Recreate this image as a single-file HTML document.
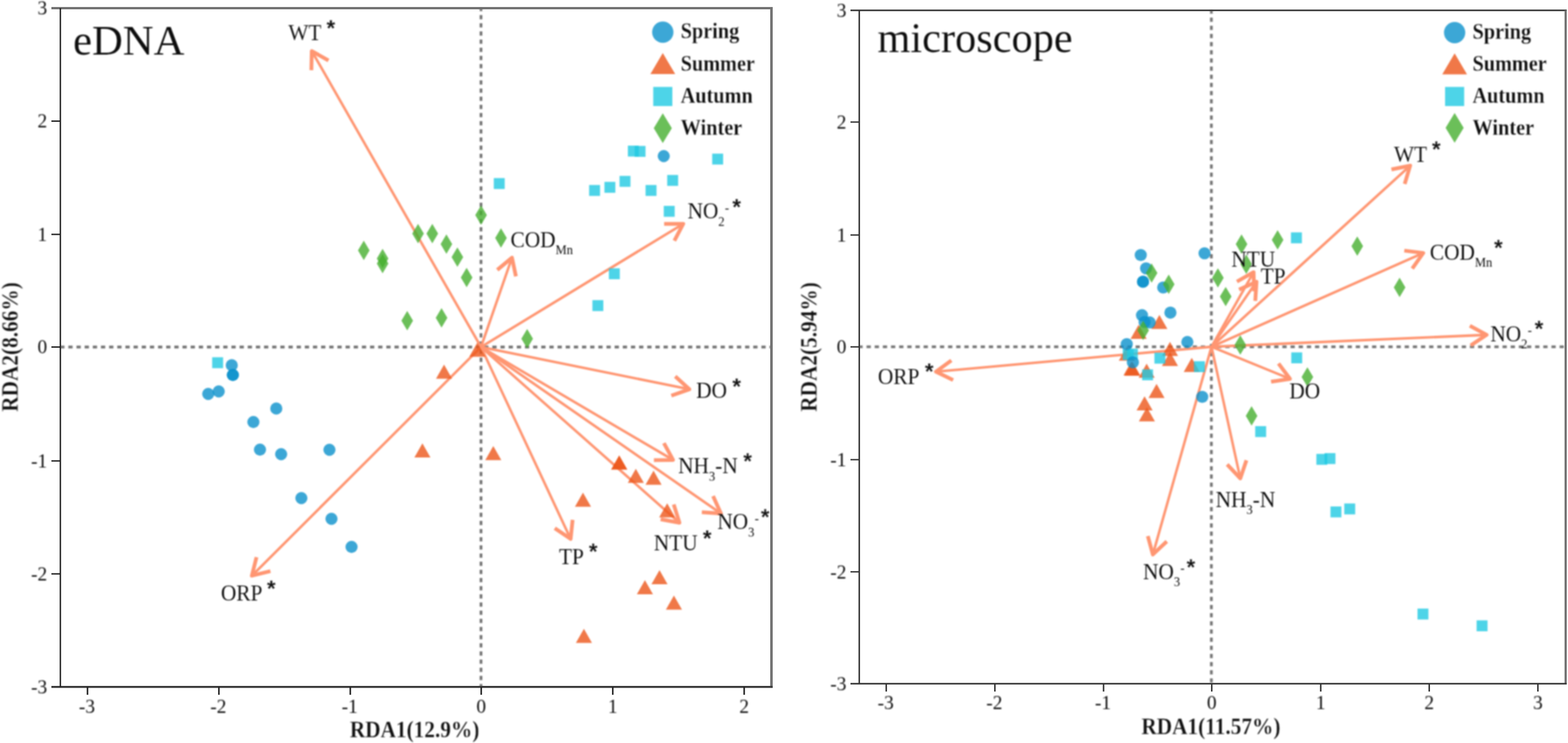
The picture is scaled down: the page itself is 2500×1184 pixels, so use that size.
<!DOCTYPE html>
<html lang="en">
<head>
<meta charset="utf-8">
<title>RDA ordination: eDNA vs microscope</title>
<style>
html, body { margin: 0; padding: 0; background: #ffffff; }
body { width: 2500px; height: 1184px; overflow: hidden; }
svg { display: block; }
g.soft { filter: blur(1px); }
text { white-space: pre; stroke: #ffffff; paint-order: fill stroke; stroke-linejoin: round; }
text.r { font-family: "Liberation Serif", "DejaVu Serif", serif; font-weight: 400; }
text.b { font-family: "Liberation Serif", "DejaVu Serif", serif; font-weight: 700; }
text.st { font-family: "Liberation Sans", "DejaVu Sans", sans-serif; font-weight: 700; }
</style>
</head>
<body>
<svg width="2500" height="1184" viewBox="0 0 2500 1184">
<rect x="-10" y="-10" width="2520" height="1204" fill="#ffffff"/>
<g class="soft">
<line x1="96.25" y1="553" x2="1230" y2="553" stroke="#747474" stroke-width="4.3" stroke-dasharray="6.8 6.2" stroke-dashoffset="0.3"/>
<line x1="766.9" y1="13" x2="766.9" y2="1094.7" stroke="#747474" stroke-width="4.3" stroke-dasharray="6.8 6.2" stroke-dashoffset="2.0"/>
<line x1="766.9" y1="553" x2="497.09" y2="81.41" stroke="#ff9672" stroke-width="4.1"/>
<polyline points="523.71,96.3 497.09,81.41 496.44,111.9" fill="none" stroke="#ff9672" stroke-width="6.0" stroke-linejoin="round" stroke-linecap="butt"/>
<line x1="766.9" y1="553" x2="816.28" y2="410.58" stroke="#ff9672" stroke-width="4.1"/>
<polyline points="822.56,440.43 816.28,410.58 792.87,430.13" fill="none" stroke="#ff9672" stroke-width="6.0" stroke-linejoin="round" stroke-linecap="butt"/>
<line x1="766.9" y1="553" x2="1089.37" y2="356.64" stroke="#ff9672" stroke-width="4.1"/>
<polyline points="1075.21,383.66 1089.37,356.64 1058.87,356.82" fill="none" stroke="#ff9672" stroke-width="6.0" stroke-linejoin="round" stroke-linecap="butt"/>
<line x1="766.9" y1="553" x2="1099.09" y2="620.31" stroke="#ff9672" stroke-width="4.1"/>
<polyline points="1070.35,630.52 1099.09,620.31 1076.59,599.73" fill="none" stroke="#ff9672" stroke-width="6.0" stroke-linejoin="round" stroke-linecap="butt"/>
<line x1="766.9" y1="553" x2="1073.1" y2="732.89" stroke="#ff9672" stroke-width="4.1"/>
<polyline points="1042.6,733.19 1073.1,732.89 1058.52,706.1" fill="none" stroke="#ff9672" stroke-width="6.0" stroke-linejoin="round" stroke-linecap="butt"/>
<line x1="766.9" y1="553" x2="1149.44" y2="818.25" stroke="#ff9672" stroke-width="4.1"/>
<polyline points="1119.01,816.26 1149.44,818.25 1136.91,790.44" fill="none" stroke="#ff9672" stroke-width="6.0" stroke-linejoin="round" stroke-linecap="butt"/>
<line x1="766.9" y1="553" x2="1083.35" y2="833.04" stroke="#ff9672" stroke-width="4.1"/>
<polyline points="1053.36,827.48 1083.35,833.04 1074.18,803.95" fill="none" stroke="#ff9672" stroke-width="6.0" stroke-linejoin="round" stroke-linecap="butt"/>
<line x1="766.9" y1="553" x2="909.82" y2="858.76" stroke="#ff9672" stroke-width="4.1"/>
<polyline points="884.52,841.72 909.82,858.76 912.98,828.42" fill="none" stroke="#ff9672" stroke-width="6.0" stroke-linejoin="round" stroke-linecap="butt"/>
<line x1="766.9" y1="553" x2="401.56" y2="917.45" stroke="#ff9672" stroke-width="4.1"/>
<polyline points="408.97,887.86 401.56,917.45 431.16,910.1" fill="none" stroke="#ff9672" stroke-width="6.0" stroke-linejoin="round" stroke-linecap="butt"/>
<polygon points="761,546 773.8,568.5 748.2,568.5" fill="#ec561a" fill-opacity="0.8"/>
<polygon points="708,581 720.8,603.5 695.2,603.5" fill="#ec561a" fill-opacity="0.8"/>
<polygon points="673.5,706.5 686.3,729 660.7,729" fill="#ec561a" fill-opacity="0.8"/>
<polygon points="786.5,710.75 799.3,733.25 773.7,733.25" fill="#ec561a" fill-opacity="0.8"/>
<polygon points="987.25,725.75 1000.05,748.25 974.45,748.25" fill="#ec561a" fill-opacity="0.8"/>
<polygon points="987.25,725.75 1000.05,748.25 974.45,748.25" fill="#ec561a" fill-opacity="0.8"/>
<polygon points="1013.75,747 1026.55,769.5 1000.95,769.5" fill="#ec561a" fill-opacity="0.8"/>
<polygon points="1042,750 1054.8,772.5 1029.2,772.5" fill="#ec561a" fill-opacity="0.8"/>
<polygon points="929.5,785 942.3,807.5 916.7,807.5" fill="#ec561a" fill-opacity="0.8"/>
<polygon points="1063.75,802 1076.55,824.5 1050.95,824.5" fill="#ec561a" fill-opacity="0.8"/>
<polygon points="1051.5,908.5 1064.3,931 1038.7,931" fill="#ec561a" fill-opacity="0.8"/>
<polygon points="1028.25,924.5 1041.05,947 1015.45,947" fill="#ec561a" fill-opacity="0.8"/>
<polygon points="1074.5,949 1087.3,971.5 1061.7,971.5" fill="#ec561a" fill-opacity="0.8"/>
<polygon points="931,1002 943.8,1024.5 918.2,1024.5" fill="#ec561a" fill-opacity="0.8"/>
<rect x="338.3" y="569.3" width="17.4" height="17.4" fill="#20c9e2" fill-opacity="0.8"/>
<rect x="1001.05" y="232.05" width="17.4" height="17.4" fill="#20c9e2" fill-opacity="0.8"/>
<rect x="1011.8" y="232.55" width="17.4" height="17.4" fill="#20c9e2" fill-opacity="0.8"/>
<rect x="1135.55" y="244.8" width="17.4" height="17.4" fill="#20c9e2" fill-opacity="0.8"/>
<rect x="787.3" y="283.8" width="17.4" height="17.4" fill="#20c9e2" fill-opacity="0.8"/>
<rect x="987.8" y="280.3" width="17.4" height="17.4" fill="#20c9e2" fill-opacity="0.8"/>
<rect x="963.7" y="289.8" width="17.4" height="17.4" fill="#20c9e2" fill-opacity="0.8"/>
<rect x="939.3" y="294.8" width="17.4" height="17.4" fill="#20c9e2" fill-opacity="0.8"/>
<rect x="1029.3" y="294.8" width="17.4" height="17.4" fill="#20c9e2" fill-opacity="0.8"/>
<rect x="1063.8" y="278.8" width="17.4" height="17.4" fill="#20c9e2" fill-opacity="0.8"/>
<rect x="1058.3" y="328.05" width="17.4" height="17.4" fill="#20c9e2" fill-opacity="0.8"/>
<rect x="970.8" y="427.55" width="17.4" height="17.4" fill="#20c9e2" fill-opacity="0.8"/>
<rect x="944.55" y="478.3" width="17.4" height="17.4" fill="#20c9e2" fill-opacity="0.8"/>
<circle cx="369.5" cy="582" r="9.7" fill="#0b91cc" fill-opacity="0.8"/>
<circle cx="371.25" cy="597.5" r="9.7" fill="#0b91cc" fill-opacity="0.8"/>
<circle cx="371.25" cy="597.5" r="9.7" fill="#0b91cc" fill-opacity="0.8"/>
<circle cx="332" cy="627.75" r="9.7" fill="#0b91cc" fill-opacity="0.8"/>
<circle cx="348.75" cy="623.75" r="9.7" fill="#0b91cc" fill-opacity="0.8"/>
<circle cx="440.5" cy="651" r="9.7" fill="#0b91cc" fill-opacity="0.8"/>
<circle cx="404" cy="672.5" r="9.7" fill="#0b91cc" fill-opacity="0.8"/>
<circle cx="414.5" cy="716.5" r="9.7" fill="#0b91cc" fill-opacity="0.8"/>
<circle cx="448.25" cy="723.75" r="9.7" fill="#0b91cc" fill-opacity="0.8"/>
<circle cx="525.25" cy="716.75" r="9.7" fill="#0b91cc" fill-opacity="0.8"/>
<circle cx="480.5" cy="793.75" r="9.7" fill="#0b91cc" fill-opacity="0.8"/>
<circle cx="528.5" cy="826.75" r="9.7" fill="#0b91cc" fill-opacity="0.8"/>
<circle cx="560.5" cy="871.5" r="9.7" fill="#0b91cc" fill-opacity="0.8"/>
<circle cx="1058.25" cy="248.75" r="9.7" fill="#0b91cc" fill-opacity="0.8"/>
<polygon points="580,383.6 589.25,399 580,414.4 570.75,399" fill="#46af2f" fill-opacity="0.8"/>
<polygon points="610,396.6 619.25,412 610,427.4 600.75,412" fill="#46af2f" fill-opacity="0.8"/>
<polygon points="610,404.6 619.25,420 610,435.4 600.75,420" fill="#46af2f" fill-opacity="0.8"/>
<polygon points="767,327.35 776.25,342.75 767,358.15 757.75,342.75" fill="#46af2f" fill-opacity="0.8"/>
<polygon points="666.5,356.85 675.75,372.25 666.5,387.65 657.25,372.25" fill="#46af2f" fill-opacity="0.8"/>
<polygon points="689.25,356.85 698.5,372.25 689.25,387.65 680,372.25" fill="#46af2f" fill-opacity="0.8"/>
<polygon points="711.75,373.6 721,389 711.75,404.4 702.5,389" fill="#46af2f" fill-opacity="0.8"/>
<polygon points="729.25,394.35 738.5,409.75 729.25,425.15 720,409.75" fill="#46af2f" fill-opacity="0.8"/>
<polygon points="744,426.85 753.25,442.25 744,457.65 734.75,442.25" fill="#46af2f" fill-opacity="0.8"/>
<polygon points="798.75,363.85 808,379.25 798.75,394.65 789.5,379.25" fill="#46af2f" fill-opacity="0.8"/>
<polygon points="649.25,495.6 658.5,511 649.25,526.4 640,511" fill="#46af2f" fill-opacity="0.8"/>
<polygon points="704,491.1 713.25,506.5 704,521.9 694.75,506.5" fill="#46af2f" fill-opacity="0.8"/>
<polygon points="840.5,524.35 849.75,539.75 840.5,555.15 831.25,539.75" fill="#46af2f" fill-opacity="0.8"/>
</g>
<g class="crisp">
<line x1="81.95" y1="13" x2="1232" y2="13" stroke="#6a6a6a" stroke-width="3.6"/>
<line x1="1230" y1="13" x2="1230" y2="1094.7" stroke="#747474" stroke-width="4.0"/>
<line x1="81.95" y1="1094.7" x2="1232" y2="1094.7" stroke="#3c3c3c" stroke-width="3.2"/>
<line x1="96.25" y1="13" x2="96.25" y2="1094.7" stroke="#1e1e1e" stroke-width="2.2"/>
<line x1="81.95" y1="193" x2="96.25" y2="193" stroke="#1e1e1e" stroke-width="2.2"/>
<line x1="81.95" y1="373.5" x2="96.25" y2="373.5" stroke="#1e1e1e" stroke-width="2.2"/>
<line x1="81.95" y1="553" x2="96.25" y2="553" stroke="#1e1e1e" stroke-width="2.2"/>
<line x1="81.95" y1="734.5" x2="96.25" y2="734.5" stroke="#1e1e1e" stroke-width="2.2"/>
<line x1="81.95" y1="914.5" x2="96.25" y2="914.5" stroke="#1e1e1e" stroke-width="2.2"/>
<line x1="139.5" y1="1094.7" x2="139.5" y2="1107.2" stroke="#1e1e1e" stroke-width="2.4"/>
<line x1="349" y1="1094.7" x2="349" y2="1107.2" stroke="#1e1e1e" stroke-width="2.4"/>
<line x1="558.5" y1="1094.7" x2="558.5" y2="1107.2" stroke="#1e1e1e" stroke-width="2.4"/>
<line x1="767.25" y1="1094.7" x2="767.25" y2="1107.2" stroke="#1e1e1e" stroke-width="2.4"/>
<line x1="977" y1="1094.7" x2="977" y2="1107.2" stroke="#1e1e1e" stroke-width="2.4"/>
<line x1="1186.5" y1="1094.7" x2="1186.5" y2="1107.2" stroke="#1e1e1e" stroke-width="2.4"/>
</g>
<g class="soft">
<text class="r" x="75.3" y="23.4" font-size="31" text-anchor="end" fill="#050505" stroke-width="0.05">3</text>
<text class="r" x="75.3" y="203.4" font-size="31" text-anchor="end" fill="#050505" stroke-width="0.05">2</text>
<text class="r" x="75.3" y="383.9" font-size="31" text-anchor="end" fill="#050505" stroke-width="0.05">1</text>
<text class="r" x="75.3" y="563.4" font-size="31" text-anchor="end" fill="#050505" stroke-width="0.05">0</text>
<text class="r" x="75.3" y="744.9" font-size="31" text-anchor="end" fill="#050505" stroke-width="0.05">-1</text>
<text class="r" x="75.3" y="924.9" font-size="31" text-anchor="end" fill="#050505" stroke-width="0.05">-2</text>
<text class="r" x="75.3" y="1105.1" font-size="31" text-anchor="end" fill="#050505" stroke-width="0.05">-3</text>
<text class="r" x="138.6" y="1136.3" font-size="31" text-anchor="middle" fill="#050505" stroke-width="0.05">-3</text>
<text class="r" x="348.1" y="1136.3" font-size="31" text-anchor="middle" fill="#050505" stroke-width="0.05">-2</text>
<text class="r" x="557.6" y="1136.3" font-size="31" text-anchor="middle" fill="#050505" stroke-width="0.05">-1</text>
<text class="r" x="767.25" y="1136.3" font-size="31" text-anchor="middle" fill="#050505" stroke-width="0.05">0</text>
<text class="r" x="977" y="1136.3" font-size="31" text-anchor="middle" fill="#050505" stroke-width="0.05">1</text>
<text class="r" x="1186.5" y="1136.3" font-size="31" text-anchor="middle" fill="#050505" stroke-width="0.05">2</text>
<text class="b" x="0" y="0" font-size="34" text-anchor="middle" fill="#111" stroke-width="0.3" transform="translate(661 1174.8) scale(1 1.09)">RDA1(12.9%)</text>
<text class="b" x="0" y="0" font-size="34" text-anchor="middle" fill="#111" stroke-width="0.3" transform="translate(28.3 553) rotate(-90) scale(1 1.09)">RDA2(8.66%)</text>
<text class="r" x="116.5" y="86.6" font-size="68" text-anchor="start" fill="#0d0d0d" stroke-width="0.1">eDNA</text>
<circle cx="1056.75" cy="51.25" r="17" fill="#0b91cc" fill-opacity="0.8"/>
<polygon points="1056.75,84.5 1076.5,118 1037,118" fill="#ec561a" fill-opacity="0.8"/>
<rect x="1041.5" y="138.5" width="30.5" height="30.5" fill="#20c9e2" fill-opacity="0.8"/>
<polygon points="1056.75,180.5 1071.15,204.25 1056.75,228 1042.35,204.25" fill="#46af2f" fill-opacity="0.8"/>
<text class="b" x="0" y="0" font-size="32.3" text-anchor="start" fill="#0d0d0d" stroke-width="0.3" transform="translate(1085.3 61.25) scale(1 1.09)">Spring</text>
<text class="b" x="0" y="0" font-size="32.3" text-anchor="start" fill="#0d0d0d" stroke-width="0.3" transform="translate(1085.3 113) scale(1 1.09)">Summer</text>
<text class="b" x="0" y="0" font-size="32.3" text-anchor="start" fill="#0d0d0d" stroke-width="0.3" transform="translate(1085.3 164.25) scale(1 1.09)">Autumn</text>
<text class="b" x="0" y="0" font-size="32.3" text-anchor="start" fill="#0d0d0d" stroke-width="0.3" transform="translate(1085.3 215) scale(1 1.09)">Winter</text>
<text class="r" x="0" y="0" font-size="34" text-anchor="start" fill="#0a0a0a" stroke-width="0.1" transform="translate(459.7 63.8) scale(1 1.05)">WT</text>
<text class="st" x="527.5" y="58" font-size="36" text-anchor="middle" fill="#111" stroke-width="0.3">*</text>
<text class="r" x="0" y="0" font-size="34" text-anchor="start" fill="#0a0a0a" stroke-width="0.1" transform="translate(813.95 393.8) scale(1 1.05)">COD<tspan font-size="20" dy="11" stroke-width="0">Mn</tspan></text>
<text class="r" x="0" y="0" font-size="34" text-anchor="start" fill="#0a0a0a" stroke-width="0.1" transform="translate(1096.2 348.3) scale(1 1.05)">NO<tspan font-size="20" dy="11" stroke-width="0">2</tspan><tspan font-size="20" dy="-21" dx="0.5" stroke-width="0">-</tspan></text>
<text class="st" x="1174.6" y="342.6" font-size="36" text-anchor="middle" fill="#111" stroke-width="0.3">*</text>
<text class="r" x="0" y="0" font-size="34" text-anchor="start" fill="#0a0a0a" stroke-width="0.1" transform="translate(1109.95 634.3) scale(1 1.05)">DO</text>
<text class="st" x="1174.5" y="629.35" font-size="36" text-anchor="middle" fill="#111" stroke-width="0.3">*</text>
<text class="r" x="0" y="0" font-size="34" text-anchor="start" fill="#0a0a0a" stroke-width="0.1" transform="translate(1081.2 754.3) scale(1 1.05)">NH<tspan font-size="20" dy="11" stroke-width="0">3</tspan><tspan dy="-11">-N</tspan></text>
<text class="st" x="1192" y="747.6" font-size="36" text-anchor="middle" fill="#111" stroke-width="0.3">*</text>
<text class="r" x="0" y="0" font-size="34" text-anchor="start" fill="#0a0a0a" stroke-width="0.1" transform="translate(1143.7 843.05) scale(1 1.05)">NO<tspan font-size="20" dy="11" stroke-width="0">3</tspan><tspan font-size="20" dy="-21" dx="0.5" stroke-width="0">-</tspan></text>
<text class="st" x="1220" y="836.85" font-size="36" text-anchor="middle" fill="#111" stroke-width="0.3">*</text>
<text class="r" x="0" y="0" font-size="34" text-anchor="start" fill="#0a0a0a" stroke-width="0.1" transform="translate(1042.45 876.8) scale(1 1.05)">NTU</text>
<text class="st" x="1127.5" y="870.6" font-size="36" text-anchor="middle" fill="#111" stroke-width="0.3">*</text>
<text class="r" x="0" y="0" font-size="34" text-anchor="start" fill="#0a0a0a" stroke-width="0.1" transform="translate(891.2 898.8) scale(1 1.05)">TP</text>
<text class="st" x="945.75" y="891.85" font-size="36" text-anchor="middle" fill="#111" stroke-width="0.3">*</text>
<text class="r" x="0" y="0" font-size="34" text-anchor="start" fill="#0a0a0a" stroke-width="0.1" transform="translate(352.2 957.05) scale(1 1.05)">ORP</text>
<text class="st" x="432.5" y="950.6" font-size="36" text-anchor="middle" fill="#111" stroke-width="0.3">*</text>
</g>
<g class="soft">
<line x1="1370" y1="552.6" x2="2496.25" y2="552.6" stroke="#747474" stroke-width="4.3" stroke-dasharray="6.8 6.2" stroke-dashoffset="1.4"/>
<line x1="1931.4" y1="16.5" x2="1931.4" y2="1089.5" stroke="#747474" stroke-width="4.3" stroke-dasharray="6.8 6.2" stroke-dashoffset="1.6"/>
<line x1="1931.6" y1="552.6" x2="1998.72" y2="433.72" stroke="#ff9672" stroke-width="4.1"/>
<polyline points="1999.54,464.2 1998.72,433.72 1972.19,448.76" fill="none" stroke="#ff9672" stroke-width="6.0" stroke-linejoin="round" stroke-linecap="butt"/>
<line x1="1931.6" y1="552.6" x2="2003.35" y2="449.01" stroke="#ff9672" stroke-width="4.1"/>
<polyline points="2001.38,479.44 2003.35,449.01 1975.55,461.56" fill="none" stroke="#ff9672" stroke-width="6.0" stroke-linejoin="round" stroke-linecap="butt"/>
<line x1="1931.6" y1="552.6" x2="2248.37" y2="263.98" stroke="#ff9672" stroke-width="4.1"/>
<polyline points="2239.63,293.2 2248.37,263.98 2218.47,269.98" fill="none" stroke="#ff9672" stroke-width="6.0" stroke-linejoin="round" stroke-linecap="butt"/>
<line x1="1931.6" y1="552.6" x2="2269.24" y2="403.14" stroke="#ff9672" stroke-width="4.1"/>
<polyline points="2251.69,428.09 2269.24,403.14 2238.97,399.36" fill="none" stroke="#ff9672" stroke-width="6.0" stroke-linejoin="round" stroke-linecap="butt"/>
<line x1="1931.6" y1="552.6" x2="2370.3" y2="533.6" stroke="#ff9672" stroke-width="4.1"/>
<polyline points="2344.86,550.42 2370.3,533.6 2343.5,519.03" fill="none" stroke="#ff9672" stroke-width="6.0" stroke-linejoin="round" stroke-linecap="butt"/>
<line x1="1931.6" y1="552.6" x2="2056.71" y2="603.67" stroke="#ff9672" stroke-width="4.1"/>
<polyline points="2026.57,608.33 2056.71,603.67 2038.44,579.24" fill="none" stroke="#ff9672" stroke-width="6.0" stroke-linejoin="round" stroke-linecap="butt"/>
<line x1="1931.6" y1="552.6" x2="1977.53" y2="762.35" stroke="#ff9672" stroke-width="4.1"/>
<polyline points="1956.59,740.17 1977.53,762.35 1987.28,733.45" fill="none" stroke="#ff9672" stroke-width="6.0" stroke-linejoin="round" stroke-linecap="butt"/>
<line x1="1931.6" y1="552.6" x2="1838.1" y2="883.63" stroke="#ff9672" stroke-width="4.1"/>
<polyline points="1830.09,854.2 1838.1,883.63 1860.32,862.74" fill="none" stroke="#ff9672" stroke-width="6.0" stroke-linejoin="round" stroke-linecap="butt"/>
<line x1="1931.6" y1="552.6" x2="1492.19" y2="592.3" stroke="#ff9672" stroke-width="4.1"/>
<polyline points="1516.82,574.3 1492.19,592.3 1519.64,605.59" fill="none" stroke="#ff9672" stroke-width="6.0" stroke-linejoin="round" stroke-linecap="butt"/>
<polygon points="1848.5,501.8 1861.3,524.3 1835.7,524.3" fill="#ec561a" fill-opacity="0.8"/>
<polygon points="1815.4,517.5 1828.2,540 1802.6,540" fill="#ec561a" fill-opacity="0.8"/>
<polygon points="1796.6,552.2 1809.4,574.7 1783.8,574.7" fill="#ec561a" fill-opacity="0.8"/>
<polygon points="1804,575.7 1816.8,598.2 1791.2,598.2" fill="#ec561a" fill-opacity="0.8"/>
<polygon points="1805.6,576.3 1818.4,598.8 1792.8,598.8" fill="#ec561a" fill-opacity="0.8"/>
<polygon points="1828.2,579.5 1841,602 1815.4,602" fill="#ec561a" fill-opacity="0.8"/>
<polygon points="1865.4,544.8 1878.2,567.3 1852.6,567.3" fill="#ec561a" fill-opacity="0.8"/>
<polygon points="1865.4,560.7 1878.2,583.2 1852.6,583.2" fill="#ec561a" fill-opacity="0.8"/>
<polygon points="1900.1,570.2 1912.9,592.7 1887.3,592.7" fill="#ec561a" fill-opacity="0.8"/>
<polygon points="1844,611.7 1856.8,634.2 1831.2,634.2" fill="#ec561a" fill-opacity="0.8"/>
<polygon points="1824.9,631.5 1837.7,654 1812.1,654" fill="#ec561a" fill-opacity="0.8"/>
<polygon points="1828.6,648.9 1841.4,671.4 1815.8,671.4" fill="#ec561a" fill-opacity="0.8"/>
<rect x="1790.1" y="556.2" width="17.4" height="17.4" fill="#20c9e2" fill-opacity="0.8"/>
<rect x="1796.8" y="555.5" width="17.4" height="17.4" fill="#20c9e2" fill-opacity="0.8"/>
<rect x="1821" y="588.6" width="17.4" height="17.4" fill="#20c9e2" fill-opacity="0.8"/>
<rect x="1840.6" y="562.1" width="17.4" height="17.4" fill="#20c9e2" fill-opacity="0.8"/>
<rect x="1903.6" y="575.6" width="17.4" height="17.4" fill="#20c9e2" fill-opacity="0.8"/>
<rect x="2058.3" y="370.3" width="17.4" height="17.4" fill="#20c9e2" fill-opacity="0.8"/>
<rect x="2058.8" y="561.55" width="17.4" height="17.4" fill="#20c9e2" fill-opacity="0.8"/>
<rect x="2001.3" y="679.05" width="17.4" height="17.4" fill="#20c9e2" fill-opacity="0.8"/>
<rect x="2098.8" y="723.3" width="17.4" height="17.4" fill="#20c9e2" fill-opacity="0.8"/>
<rect x="2111.8" y="722.05" width="17.4" height="17.4" fill="#20c9e2" fill-opacity="0.8"/>
<rect x="2121.3" y="807.05" width="17.4" height="17.4" fill="#20c9e2" fill-opacity="0.8"/>
<rect x="2143.3" y="802.3" width="17.4" height="17.4" fill="#20c9e2" fill-opacity="0.8"/>
<rect x="2260.05" y="969.8" width="17.4" height="17.4" fill="#20c9e2" fill-opacity="0.8"/>
<rect x="2354.3" y="988.55" width="17.4" height="17.4" fill="#20c9e2" fill-opacity="0.8"/>
<circle cx="1818.8" cy="406.4" r="9.7" fill="#0b91cc" fill-opacity="0.8"/>
<circle cx="1827.3" cy="427.6" r="9.7" fill="#0b91cc" fill-opacity="0.8"/>
<circle cx="1822.4" cy="448.9" r="9.7" fill="#0b91cc" fill-opacity="0.8"/>
<circle cx="1822.4" cy="448.9" r="9.7" fill="#0b91cc" fill-opacity="0.8"/>
<circle cx="1854.6" cy="458.1" r="9.7" fill="#0b91cc" fill-opacity="0.8"/>
<circle cx="1920.5" cy="403.6" r="9.7" fill="#0b91cc" fill-opacity="0.8"/>
<circle cx="1866.1" cy="498.2" r="9.7" fill="#0b91cc" fill-opacity="0.8"/>
<circle cx="1820.8" cy="502.3" r="9.7" fill="#0b91cc" fill-opacity="0.8"/>
<circle cx="1824.9" cy="513.1" r="9.7" fill="#0b91cc" fill-opacity="0.8"/>
<circle cx="1833" cy="513.8" r="9.7" fill="#0b91cc" fill-opacity="0.8"/>
<circle cx="1796.5" cy="548.4" r="9.7" fill="#0b91cc" fill-opacity="0.8"/>
<circle cx="1893.1" cy="545" r="9.7" fill="#0b91cc" fill-opacity="0.8"/>
<circle cx="1806.2" cy="577.4" r="9.7" fill="#0b91cc" fill-opacity="0.8"/>
<circle cx="1916.8" cy="632.4" r="9.7" fill="#0b91cc" fill-opacity="0.8"/>
<polygon points="1836.1,419.7 1845.35,435.1 1836.1,450.5 1826.85,435.1" fill="#46af2f" fill-opacity="0.8"/>
<polygon points="1863.4,437.6 1872.65,453 1863.4,468.4 1854.15,453" fill="#46af2f" fill-opacity="0.8"/>
<polygon points="1941.8,427.4 1951.05,442.8 1941.8,458.2 1932.55,442.8" fill="#46af2f" fill-opacity="0.8"/>
<polygon points="1954.2,457.2 1963.45,472.6 1954.2,488 1944.95,472.6" fill="#46af2f" fill-opacity="0.8"/>
<polygon points="1822.6,511.1 1831.85,526.5 1822.6,541.9 1813.35,526.5" fill="#46af2f" fill-opacity="0.8"/>
<polygon points="1979.5,373.6 1988.75,389 1979.5,404.4 1970.25,389" fill="#46af2f" fill-opacity="0.8"/>
<polygon points="2037,366.85 2046.25,382.25 2037,397.65 2027.75,382.25" fill="#46af2f" fill-opacity="0.8"/>
<polygon points="2164,376.85 2173.25,392.25 2164,407.65 2154.75,392.25" fill="#46af2f" fill-opacity="0.8"/>
<polygon points="1987,405.6 1996.25,421 1987,436.4 1977.75,421" fill="#46af2f" fill-opacity="0.8"/>
<polygon points="2231.5,442.6 2240.75,458 2231.5,473.4 2222.25,458" fill="#46af2f" fill-opacity="0.8"/>
<polygon points="1977.5,534.35 1986.75,549.75 1977.5,565.15 1968.25,549.75" fill="#46af2f" fill-opacity="0.8"/>
<polygon points="2084.5,585.35 2093.75,600.75 2084.5,616.15 2075.25,600.75" fill="#46af2f" fill-opacity="0.8"/>
<polygon points="1995.5,647.35 2004.75,662.75 1995.5,678.15 1986.25,662.75" fill="#46af2f" fill-opacity="0.8"/>
</g>
<g class="crisp">
<line x1="1356" y1="16.5" x2="2497.95" y2="16.5" stroke="#333333" stroke-width="2.4"/>
<line x1="2496.25" y1="16.5" x2="2496.25" y2="1089.5" stroke="#6e6e6e" stroke-width="3.4"/>
<line x1="1356" y1="1089.5" x2="2497.95" y2="1089.5" stroke="#333333" stroke-width="2.6"/>
<line x1="1370" y1="16.5" x2="1370" y2="1089.5" stroke="#333333" stroke-width="2.4"/>
<line x1="1356" y1="194.5" x2="1370" y2="194.5" stroke="#333333" stroke-width="2.2"/>
<line x1="1356" y1="374.5" x2="1370" y2="374.5" stroke="#333333" stroke-width="2.2"/>
<line x1="1356" y1="552.75" x2="1370" y2="552.75" stroke="#333333" stroke-width="2.2"/>
<line x1="1356" y1="732.5" x2="1370" y2="732.5" stroke="#333333" stroke-width="2.2"/>
<line x1="1356" y1="911.25" x2="1370" y2="911.25" stroke="#333333" stroke-width="2.2"/>
<line x1="1413" y1="1089.5" x2="1413" y2="1102" stroke="#333333" stroke-width="2.4"/>
<line x1="1586.25" y1="1089.5" x2="1586.25" y2="1102" stroke="#333333" stroke-width="2.4"/>
<line x1="1759.5" y1="1089.5" x2="1759.5" y2="1102" stroke="#333333" stroke-width="2.4"/>
<line x1="1932" y1="1089.5" x2="1932" y2="1102" stroke="#333333" stroke-width="2.4"/>
<line x1="2105.75" y1="1089.5" x2="2105.75" y2="1102" stroke="#333333" stroke-width="2.4"/>
<line x1="2278.75" y1="1089.5" x2="2278.75" y2="1102" stroke="#333333" stroke-width="2.4"/>
<line x1="2452" y1="1089.5" x2="2452" y2="1102" stroke="#333333" stroke-width="2.4"/>
</g>
<g class="soft">
<text class="r" x="1349.6" y="26.9" font-size="31" text-anchor="end" fill="#050505" stroke-width="0.05">3</text>
<text class="r" x="1349.6" y="204.9" font-size="31" text-anchor="end" fill="#050505" stroke-width="0.05">2</text>
<text class="r" x="1349.6" y="384.9" font-size="31" text-anchor="end" fill="#050505" stroke-width="0.05">1</text>
<text class="r" x="1349.6" y="563.15" font-size="31" text-anchor="end" fill="#050505" stroke-width="0.05">0</text>
<text class="r" x="1349.6" y="742.9" font-size="31" text-anchor="end" fill="#050505" stroke-width="0.05">-1</text>
<text class="r" x="1349.6" y="921.65" font-size="31" text-anchor="end" fill="#050505" stroke-width="0.05">-2</text>
<text class="r" x="1349.6" y="1099.9" font-size="31" text-anchor="end" fill="#050505" stroke-width="0.05">-3</text>
<text class="r" x="1412.1" y="1130" font-size="31" text-anchor="middle" fill="#050505" stroke-width="0.05">-3</text>
<text class="r" x="1585.35" y="1130" font-size="31" text-anchor="middle" fill="#050505" stroke-width="0.05">-2</text>
<text class="r" x="1758.6" y="1130" font-size="31" text-anchor="middle" fill="#050505" stroke-width="0.05">-1</text>
<text class="r" x="1932" y="1130" font-size="31" text-anchor="middle" fill="#050505" stroke-width="0.05">0</text>
<text class="r" x="2105.75" y="1130" font-size="31" text-anchor="middle" fill="#050505" stroke-width="0.05">1</text>
<text class="r" x="2278.75" y="1130" font-size="31" text-anchor="middle" fill="#050505" stroke-width="0.05">2</text>
<text class="r" x="2452" y="1130" font-size="31" text-anchor="middle" fill="#050505" stroke-width="0.05">3</text>
<text class="b" x="0" y="0" font-size="34" text-anchor="middle" fill="#111" stroke-width="0.3" transform="translate(1930.6 1170.5) scale(1 1.09)">RDA1(11.57%)</text>
<text class="b" x="0" y="0" font-size="34" text-anchor="middle" fill="#111" stroke-width="0.3" transform="translate(1302 553) rotate(-90) scale(1 1.09)">RDA2(5.94%)</text>
<text class="r" x="1399" y="82.8" font-size="67.5" text-anchor="start" fill="#0d0d0d" stroke-width="0.1">microscope</text>
<circle cx="2319.25" cy="52" r="17" fill="#0b91cc" fill-opacity="0.8"/>
<polygon points="2319.25,85 2339,118.5 2299.5,118.5" fill="#ec561a" fill-opacity="0.8"/>
<rect x="2304" y="138.5" width="30.5" height="30.5" fill="#20c9e2" fill-opacity="0.8"/>
<polygon points="2319.25,180 2333.65,203.75 2319.25,227.5 2304.85,203.75" fill="#46af2f" fill-opacity="0.8"/>
<text class="b" x="0" y="0" font-size="32.3" text-anchor="start" fill="#0d0d0d" stroke-width="0.3" transform="translate(2347.8 62) scale(1 1.09)">Spring</text>
<text class="b" x="0" y="0" font-size="32.3" text-anchor="start" fill="#0d0d0d" stroke-width="0.3" transform="translate(2347.8 113) scale(1 1.09)">Summer</text>
<text class="b" x="0" y="0" font-size="32.3" text-anchor="start" fill="#0d0d0d" stroke-width="0.3" transform="translate(2347.8 164.25) scale(1 1.09)">Autumn</text>
<text class="b" x="0" y="0" font-size="32.3" text-anchor="start" fill="#0d0d0d" stroke-width="0.3" transform="translate(2347.8 214.5) scale(1 1.09)">Winter</text>
<text class="r" x="0" y="0" font-size="34" text-anchor="start" fill="#0a0a0a" stroke-width="0.1" transform="translate(1963.2 424.9) scale(1 1.05)">NTU</text>
<text class="r" x="0" y="0" font-size="34" text-anchor="start" fill="#0a0a0a" stroke-width="0.1" transform="translate(2009.95 451.8) scale(1 1.05)">TP</text>
<text class="r" x="0" y="0" font-size="34" text-anchor="start" fill="#0a0a0a" stroke-width="0.1" transform="translate(2222.45 257.8) scale(1 1.05)">WT</text>
<text class="st" x="2290" y="251.1" font-size="36" text-anchor="middle" fill="#111" stroke-width="0.3">*</text>
<text class="r" x="0" y="0" font-size="34" text-anchor="start" fill="#0a0a0a" stroke-width="0.1" transform="translate(2279.7 413.8) scale(1 1.05)">COD<tspan font-size="20" dy="11" stroke-width="0">Mn</tspan></text>
<text class="st" x="2389" y="407.6" font-size="36" text-anchor="middle" fill="#111" stroke-width="0.3">*</text>
<text class="r" x="0" y="0" font-size="34" text-anchor="start" fill="#0a0a0a" stroke-width="0.1" transform="translate(2376.2 543.8) scale(1 1.05)">NO<tspan font-size="20" dy="11" stroke-width="0">2</tspan><tspan font-size="20" dy="-21" dx="0.5" stroke-width="0">-</tspan></text>
<text class="st" x="2453.75" y="537.1" font-size="36" text-anchor="middle" fill="#111" stroke-width="0.3">*</text>
<text class="r" x="0" y="0" font-size="34" text-anchor="start" fill="#0a0a0a" stroke-width="0.1" transform="translate(2055.7 634.8) scale(1 1.05)">DO</text>
<text class="r" x="0" y="0" font-size="34" text-anchor="start" fill="#0a0a0a" stroke-width="0.1" transform="translate(1938.2 807.8) scale(1 1.05)">NH<tspan font-size="20" dy="11" stroke-width="0">3</tspan><tspan dy="-11">-N</tspan></text>
<text class="r" x="0" y="0" font-size="34" text-anchor="start" fill="#0a0a0a" stroke-width="0.1" transform="translate(1822.45 922.8) scale(1 1.05)">NO<tspan font-size="20" dy="11" stroke-width="0">3</tspan><tspan font-size="20" dy="-21" dx="0.5" stroke-width="0">-</tspan></text>
<text class="st" x="1898.75" y="916.6" font-size="36" text-anchor="middle" fill="#111" stroke-width="0.3">*</text>
<text class="r" x="0" y="0" font-size="34" text-anchor="start" fill="#0a0a0a" stroke-width="0.1" transform="translate(1399.7 612.3) scale(1 1.05)">ORP</text>
<text class="st" x="1481.4" y="605.3" font-size="36" text-anchor="middle" fill="#111" stroke-width="0.3">*</text>
</g>
</svg>
</body>
</html>
